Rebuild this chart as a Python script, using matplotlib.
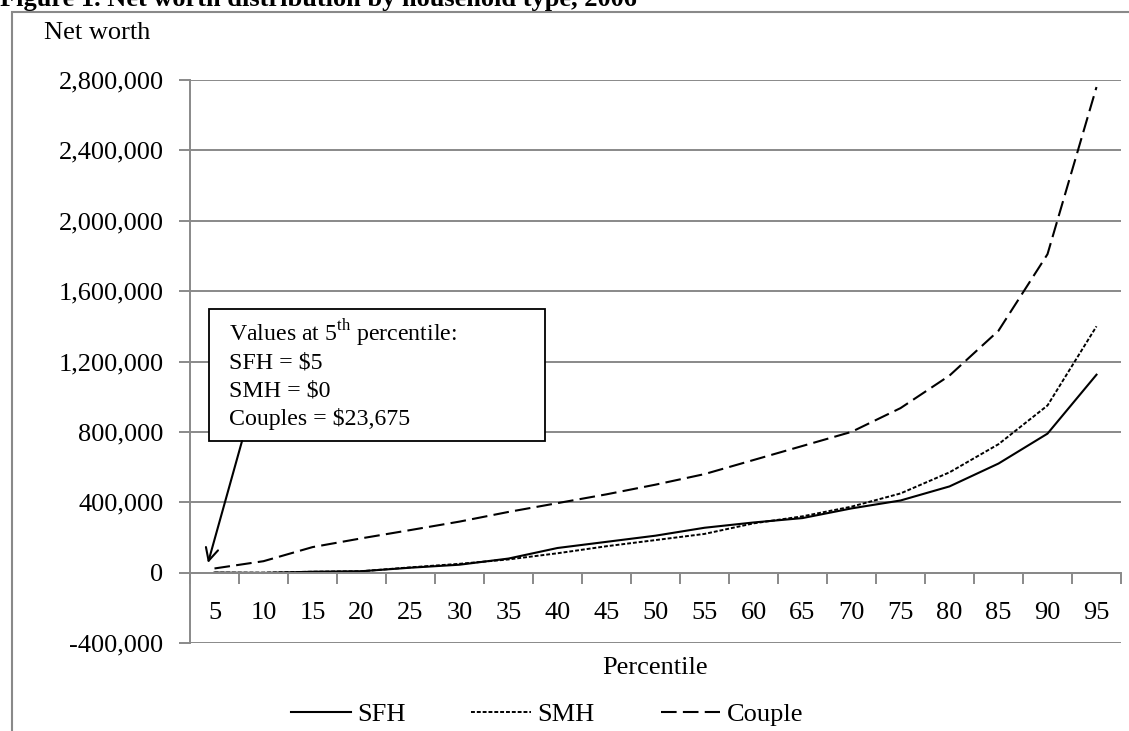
import matplotlib
matplotlib.use("Agg")
import matplotlib.pyplot as plt
from matplotlib.patches import Rectangle
from matplotlib.ticker import FuncFormatter, FixedLocator
import numpy as np

plt.rcParams['font.family'] = ['Liberation Serif', 'DejaVu Serif']
plt.rcParams['mathtext.fontset'] = 'custom'
plt.rcParams['mathtext.rm'] = 'Liberation Serif'

percentiles = ["5", "10", "15", "20", "25", "30", "35", "40", "45", "50",
               "55", "60", "65", "70", "75", "80", "85", "90", "95"]
sfh = [5, -2000, 5000, 8000, 28000, 45000, 80000, 140000, 175000, 210000,
       255000, 285000, 310000, 365000, 410000, 490000, 620000, 790000, 1125000]
smh = [0, 0, 5000, 8000, 30000, 50000, 75000, 110000, 150000, 185000,
       220000, 280000, 320000, 375000, 450000, 570000, 730000, 950000, 1400000]
couple = [23675, 65000, 145000, 195000, 242000, 290000, 345000, 395000, 445000, 500000,
          560000, 640000, 720000, 800000, 935000, 1120000, 1375000, 1810000, 2760000]
y_ticks = [-400000, 0, 400000, 800000, 1200000, 1600000, 2000000, 2400000, 2800000]
series_names = ["SFH", "SMH", "Couple"]
note_lines = ["Values at 5$^{\\mathrm{th}}$ percentile:", "SFH = $5", "SMH = $0", "Couples = $23,675"]
title = "Figure 1. Net worth distribution by household type, 2006"

W, H = 1129, 731
fig = plt.figure(figsize=(W / 100, H / 100), dpi=100)
FS = 19
GRAY = '#898989'

ax = fig.add_axes([190 / W, 1 - 643 / H, 931 / W, 563 / H])
x = np.arange(len(percentiles))

ax.plot(x, sfh, color='black', lw=1.5, ls='-', label=series_names[0])
ax.plot(x, smh, color='black', lw=1.4, ls=(0, (2, 1)), label=series_names[1])
ax.plot(x, couple, color='black', lw=1.5, ls=(0, (7.5, 3)), label=series_names[2])

ax.set_xlim(-0.5, len(percentiles) - 0.5)
ax.set_ylim(y_ticks[0], y_ticks[-1])
ax.set_yticks(y_ticks)
ax.yaxis.set_major_formatter(FuncFormatter(lambda v, p: f"{int(v):,}"))
ax.yaxis.grid(True, color=GRAY, lw=1.4)
ax.set_axisbelow(True)
ax.tick_params(axis='y', direction='out', length=8, width=1.4, color=GRAY,
               labelsize=FS, pad=11)

for s in ['top', 'right']:
    ax.spines[s].set_visible(False)
ax.spines['left'].set_color(GRAY)
ax.spines['left'].set_linewidth(1.4)
ax.spines['bottom'].set_position(('data', 0))
ax.spines['bottom'].set_color(GRAY)
ax.spines['bottom'].set_linewidth(1.4)

ax.xaxis.set_major_locator(FixedLocator(np.arange(-0.5, len(percentiles), 1.0)))
ax.xaxis.set_minor_locator(FixedLocator(x))
ax.set_xticklabels([], minor=False)
ax.set_xticklabels(percentiles, minor=True)
ax.tick_params(axis='x', which='major', direction='out', length=8, width=1.4, color=GRAY)
ax.tick_params(axis='x', which='minor', length=0, labelsize=FS, pad=21)

ax.text(0.5, -0.045, "Percentile", transform=ax.transAxes, ha='center', va='center',
        fontsize=FS)

# annotation box
ax.add_patch(Rectangle((0.0204, 0.3588), 0.3609, 0.2345, transform=ax.transAxes,
                       facecolor='white', edgecolor='black', lw=1.3, zorder=5))
baselines = [341, 369, 397, 425]
for line, b in zip(note_lines, baselines):
    ax.text(0.0419, (643 - b) / 563, line, transform=ax.transAxes, ha='left',
            va='baseline', fontsize=17.2, zorder=6)
ax.annotate("", xy=(0.0193, 0.1421), xycoords='axes fraction',
            xytext=(0.0559, 0.3588), textcoords='axes fraction',
            arrowprops=dict(arrowstyle='->,head_length=0.9,head_width=0.45',
                            color='black', lw=1.5, shrinkA=0, shrinkB=0), zorder=6)

# legend
handles, labels = ax.get_legend_handles_labels()
fig.legend(handles, labels, loc='center', bbox_to_anchor=(547 / W, 1 - 714 / H),
           ncol=3, frameon=False, fontsize=FS, handlelength=2.27, handletextpad=0.23,
           columnspacing=2.5)

# outer chart border
fig.patches.append(Rectangle((12 / W, -0.5), 2.0, 0.5 + (1 - 12 / H), transform=fig.transFigure,
                             facecolor='none', edgecolor=GRAY, lw=1.5, clip_on=True))
fig.text(44 / W, 1 - 33 / H, "Net worth", fontsize=FS, ha='left', va='center')
fig.text(0.0, 1 - 6 / H, title, fontsize=FS, fontweight='bold', ha='left', va='baseline')

fig.savefig("out.png", dpi=100)
